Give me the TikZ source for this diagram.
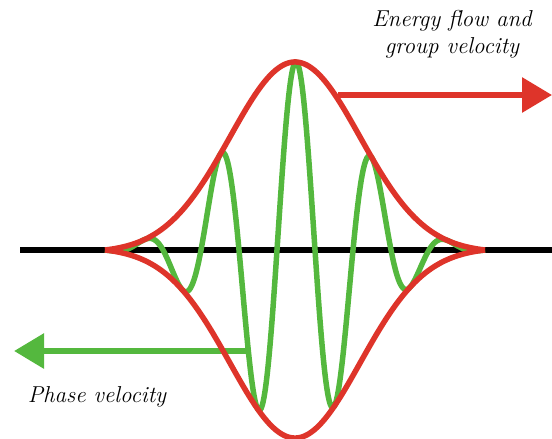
\documentclass[tikz,border=0pt]{standalone}
\usepackage{fontspec}
\usepackage{tikz}
\usetikzlibrary{arrows.meta}
\definecolor{envred}{RGB}{222,52,42}
\definecolor{wavegreen}{RGB}{84,184,62}

\begin{document}
\begin{tikzpicture}[
  x=1bp,y=-1bp,
  declare function={env(\t)=188*(exp(-((\t-295)/92)^2)-0.0141)/(1-0.0141);},
  axisline/.style={draw=black,line width=6bp},
  envline/.style ={draw=envred,line width=5.5bp,line join=round},
  waveline/.style={draw=wavegreen,line width=5.5bp,line join=round},
  bigarr/.style  ={line width=6bp,-{Triangle[length=30bp,width=34bp]}},
  lbl/.style     ={font=\fontsize{23bp}{27bp}\selectfont\itshape,align=center,inner sep=0pt},
]
\useasboundingbox (0,0) rectangle (552,439);

% axis
\coordinate (axL) at (20,250);
\coordinate (axR) at (552,250);
\draw[axisline] (axL) -- (axR);

% phase velocity arrow
\coordinate (phS) at (250,351);
\coordinate (phE) at (14,351);
\draw[bigarr,wavegreen] (phS) -- (phE);

% carrier wave
\draw[waveline] plot[domain=105:485,samples=320,smooth]
  ({\x},{250-env(\x)*cos(4.7368*(\x-296))});

% group velocity arrow
\coordinate (grS) at (338,95);
\coordinate (grE) at (552,95);
\draw[bigarr,envred] (grS) -- (grE);

% envelope
\draw[envline] plot[domain=105:485,samples=200,smooth] ({\x},{250-env(\x)});
\draw[envline] plot[domain=105:485,samples=200,smooth] ({\x},{250+env(\x)});

% labels
\node[lbl] (energy) at (452,34) {Energy flow and\\group velocity};
\node[lbl] (phase)  at (97,397) {Phase velocity};
\end{tikzpicture}
\end{document}
